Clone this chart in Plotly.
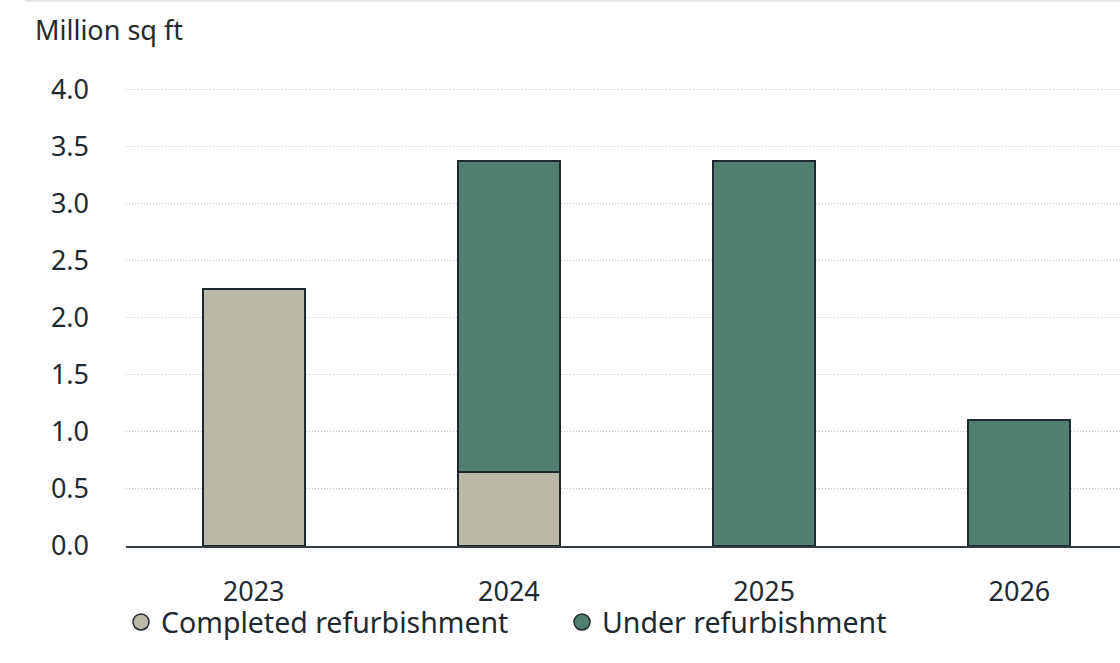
import plotly.graph_objects as go

years = ["2023", "2024", "2025", "2026"]
completed = [2.25, 0.65, 0, 0]
under = [0, 2.72, 3.37, 1.10]
y_ticks = [0, 0.5, 1.0, 1.5, 2.0, 2.5, 3.0, 3.5, 4.0]
y_tick_labels = ["0.0", "0.5", "1.0", "1.5", "2.0", "2.5", "3.0", "3.5", "4.0"]

C_COMPLETED = "#bbb8aa"
C_UNDER = "#507f70"
EDGE = "#1f2a30"
TEXT = "#1f2a30"
FONT = "Noto Sans"
FS = 27
FS_LEG = 28.5

W, H = 1120, 663
Y0_PX, Y4_PX = 546.5, 89.5
YMAX = 4.02
unit = (Y0_PX - Y4_PX) / 4.0
T = Y0_PX - YMAX * unit
L, R, B = 126, 0, H - Y0_PX

fig = go.Figure()
fig.add_bar(x=years, y=completed, marker=dict(color=C_COMPLETED, line=dict(color=EDGE, width=2)),
            width=0.4, showlegend=False, name="Completed refurbishment")
fig.add_bar(x=years, y=under, marker=dict(color=C_UNDER, line=dict(color=EDGE, width=2)),
            width=0.4, showlegend=False, name="Under refurbishment")
# legend entries with circle markers
fig.add_scatter(x=[None], y=[None], mode="markers", name="Completed refurbishment",
                marker=dict(symbol="circle", size=18, color=C_COMPLETED, line=dict(color=EDGE, width=1.5)))
fig.add_scatter(x=[None], y=[None], mode="markers", name="Under refurbishment",
                marker=dict(symbol="circle", size=18, color=C_UNDER, line=dict(color=EDGE, width=1.5)))

plot_w = W - L - R
plot_h = H - T - B

fig.update_layout(
    width=W, height=H,
    margin=dict(l=L, r=R, t=T, b=B, pad=0),
    paper_bgcolor="white", plot_bgcolor="white",
    barmode="stack",
    font=dict(family=FONT, size=FS, color=TEXT),
    legend=dict(orientation="h", x=(121 - L) / plot_w, xanchor="left",
                y=(T + plot_h - 623) / plot_h, yanchor="middle",
                font=dict(size=FS_LEG, color=TEXT), itemsizing="trace", traceorder="normal",
                entrywidth=396, entrywidthmode="pixels", bgcolor="rgba(0,0,0,0)"),
    xaxis=dict(range=[-0.5, 3.5 - 27 / 255], showgrid=False, showline=True,
               linecolor="#333d44", linewidth=2, ticks="", ticklabelstandoff=21,
               tickfont=dict(size=FS, color=TEXT), fixedrange=True),
    yaxis=dict(range=[0, YMAX], tickvals=y_ticks, ticktext=y_tick_labels,
               showgrid=True, gridcolor="#c8c8c8", gridwidth=1, griddash="1px,2px",
               zeroline=False, showline=False, ticks="", ticklabelstandoff=36,
               tickfont=dict(size=FS, color=TEXT), fixedrange=True),
    annotations=[dict(text="Million sq ft", xref="paper", yref="paper",
                      x=(33 - L) / plot_w, y=(T + plot_h - 30) / plot_h,
                      xanchor="left", yanchor="middle", showarrow=False,
                      font=dict(size=FS, color=TEXT))],
    shapes=[dict(type="line", xref="paper", yref="paper",
                 x0=(25 - L) / plot_w, x1=1.0, y0=(T + plot_h - 1) / plot_h, y1=(T + plot_h - 1) / plot_h,
                 line=dict(color="#e3e3e3", width=2))],
)

fig.write_html("out.html")
